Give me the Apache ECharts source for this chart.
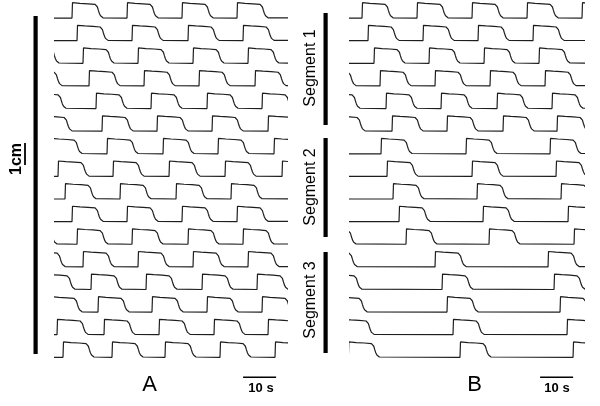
<!DOCTYPE html>
<html><head><meta charset="utf-8">
<script src="https://cdn.jsdelivr.net/npm/echarts@6/dist/echarts.min.js"></script>
<style>html,body{margin:0;padding:0;background:#fff}#c{width:600px;height:406px}</style>
</head><body><div id="c"></div>
<script>
// Rise times (s) of each trace, panel A (16 traces, top to bottom)
const riseA = [
  [5.15, 21.82, 38.48, 55.15],
  [6.67, 23.33, 40.30, 56.97],
  [-8.18, 8.48, 25.15, 41.82, 58.48],
  [-7.27, 10.30, 26.97, 43.64, 60.61],
  [-6.06, 12.42, 29.09, 46.06, 62.73],
  [-4.24, 14.24, 30.91, 47.58, 64.55],
  [-1.21, 15.76, 32.73, 49.39, 66.36],
  [0.91, 17.58, 34.55, 51.52, 68.79],
  [3.03, 19.70, 36.67, 53.33],
  [5.15, 21.82, 38.48, 55.15],
  [-8.79, 6.67, 23.33, 40.30, 56.97],
  [-6.36, 8.48, 25.15, 41.82, 58.48],
  [-3.33, 10.91, 27.58, 44.55, 61.21],
  [-1.21, 13.03, 29.39, 46.06, 62.73],
  [0.61, 14.85, 31.52, 48.18, 64.55],
  [2.42, 17.27, 33.33, 50.00, 66.67]
];
// Rise times (s) of each trace, panel B (segment 1: 1-6, segment 2: 7-11, segment 3: 12-16)
const riseB = [
  [3.64, 20.30, 36.97, 53.64, 70.30],
  [5.45, 22.12, 38.79, 55.45],
  [7.27, 23.94, 40.61, 57.27],
  [-7.58, 9.09, 25.76, 42.42, 59.09],
  [-6.36, 10.91, 27.58, 44.55, 61.21],
  [-4.85, 12.73, 29.39, 46.36, 62.73],
  [9.39, 35.15, 60.61],
  [11.21, 36.97, 62.42],
  [13.03, 38.48, 63.94],
  [14.85, 40.30, 66.06],
  [-7.58, 16.97, 42.12, 67.88],
  [-7.27, 25.76, 60.00],
  [-5.76, 27.88, 61.82],
  [-4.24, 29.39, 63.64],
  [-2.12, 31.21, 65.76],
  [-0.5, 33.33, 67.58]
];
// One cycle of the waveform: time after rise (s) and level (fraction of amplitude)
const shapeT = [0, 0.15, 2.4, 4.85, 7.0, 7.4, 7.7, 8.0, 8.3, 8.65, 8.95, 9.4, 9.85];
const shapeV = [0, 1.0, 0.96, 0.93, 0.89, 0.85, 0.72, 0.5, 0.3, 0.15, 0.07, 0.02, 0];
const amplitudeCm = 0.68;   // step height (cm)
const traceSpacingCm = 1;   // vertical offset between traces (cm)
const scaleBarA = [57, 67]; // 10 s bar, panel A
const scaleBarB = [57.6, 67.6]; // 10 s bar, panel B
const scaleBarLabel = '10 s';
const panelLabels = ['A', 'B'];
const segmentLabels = ['Segment 1', 'Segment 2', 'Segment 3'];

function buildTrace(rises, base) {
  const pts = [[-20, base]];
  rises.forEach(r => {
    for (let k = 0; k < shapeT.length; k++) {
      pts.push([r + shapeT[k], base + amplitudeCm * shapeV[k]]);
    }
  });
  pts.push([90, base]);
  return pts;
}

const series = [];
function addPanel(rises, gi) {
  const n = rises.length;
  rises.forEach((r, i) => {
    series.push({
      type: 'line', xAxisIndex: gi, yAxisIndex: gi,
      data: buildTrace(r, (n - 1 - i) * traceSpacingCm),
      showSymbol: false, symbol: 'none', silent: true, clip: true,
      lineStyle: { color: '#1e1e1e', width: 1.2 }
    });
  });
}
addPanel(riseA, 0);
addPanel(riseB, 1);
[[scaleBarA, 0], [scaleBarB, 1]].forEach(([b, gi]) => {
  series.push({
    type: 'line', xAxisIndex: gi, yAxisIndex: gi,
    data: [[b[0], -0.88], [b[1], -0.88]],
    showSymbol: false, symbol: 'none', silent: true,
    lineStyle: { color: '#000', width: 1.6 }
  });
});

const chart = echarts.init(document.getElementById('c'), null, { renderer: 'canvas' });
const txt = (t, x, y, size, weight, rot) => ({
  type: 'text', x: x, y: y, rotation: rot || 0, silent: true,
  style: { text: t, fill: '#000', font: weight + ' ' + size + 'px "Liberation Sans", Arial, sans-serif',
           align: 'center', verticalAlign: 'middle' }
});
const rect = (x, y, w, h) => ({ type: 'rect', silent: true, shape: { x: x, y: y, width: w, height: h }, style: { fill: '#000' } });

chart.setOption({
  animation: false,
  backgroundColor: '#fff',
  grid: [
    { left: 55, width: 231, top: -0.41, height: 380.35 },
    { left: 350, width: 233, top: -0.41, height: 380.35 }
  ],
  xAxis: [
    { type: 'value', gridIndex: 0, min: 0, max: 70, show: false },
    { type: 'value', gridIndex: 1, min: 0, max: 70.6, show: false }
  ],
  yAxis: [
    { type: 'value', gridIndex: 0, min: -1, max: 15.8, show: false },
    { type: 'value', gridIndex: 1, min: -1, max: 15.8, show: false }
  ],
  series: series,
  graphic: [
    rect(33.5, 16, 4.2, 338),
    { type: 'line', silent: true, shape: { x1: 25, y1: 143, x2: 25, y2: 165 }, style: { stroke: '#000', lineWidth: 1.8 } },
    txt('1cm', 17, 159, 16, 'bold', Math.PI / 2),
    rect(323.5, 13, 4.2, 112),
    rect(323.5, 138, 4.2, 99),
    rect(323.5, 252, 4.2, 101),
    txt(segmentLabels[0], 311, 68, 16, 'normal', Math.PI / 2),
    txt(segmentLabels[1], 311, 187, 16, 'normal', Math.PI / 2),
    txt(segmentLabels[2], 311, 300, 16, 'normal', Math.PI / 2),
    txt(panelLabels[0], 149.5, 385, 22, 'normal'),
    txt(panelLabels[1], 474.5, 385, 22, 'normal'),
    txt(scaleBarLabel, 261, 388, 13, 'bold'),
    txt(scaleBarLabel, 557, 388, 13, 'bold')
  ]
});
</script>
</body></html>
